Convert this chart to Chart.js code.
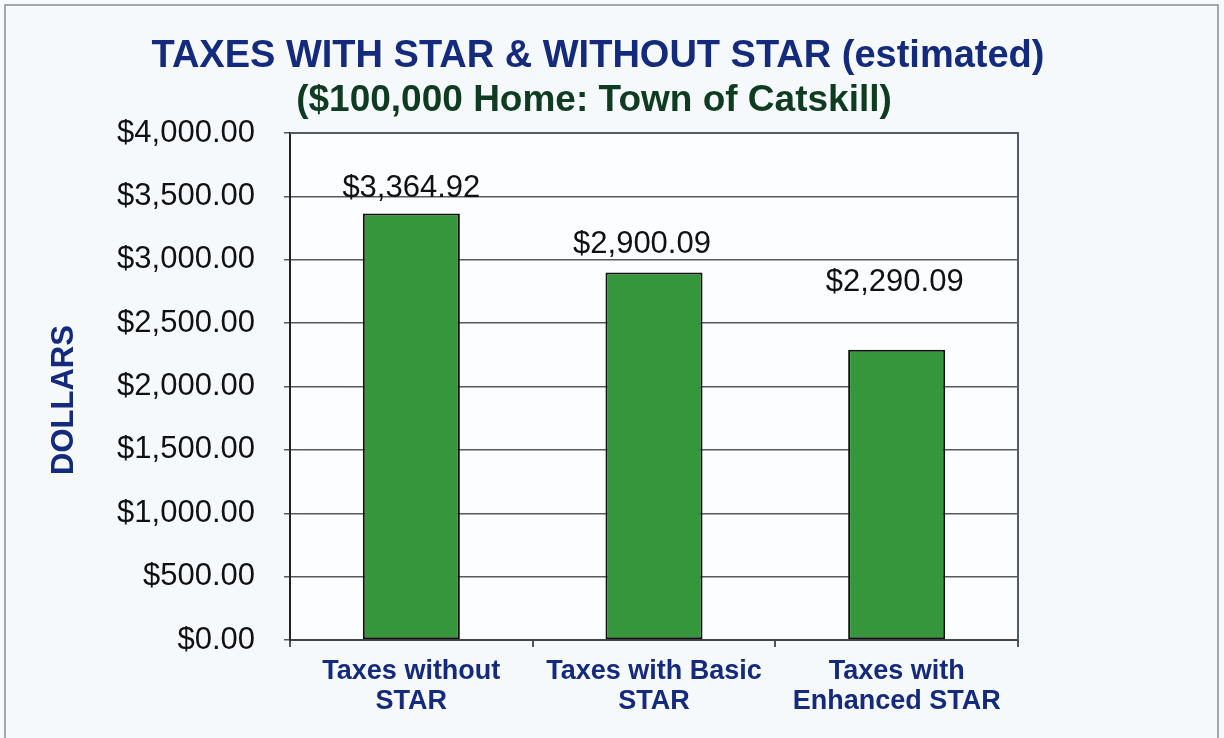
<!DOCTYPE html>
<html>
<head>
<meta charset="utf-8">
<script src="https://cdn.jsdelivr.net/npm/chart.js@4/dist/chart.umd.min.js"></script>
<style>
    html, body { margin: 0; padding: 0; background: #f6f9fc; }
    #wrap { width: 1224px; height: 738px; position: relative; }
</style>
</head>
<body>
<div id="wrap"><canvas id="taxChart"></canvas></div>
<script>
var titleLine = "TAXES WITH STAR & WITHOUT STAR (estimated)";
var subtitleLine = "($100,000 Home: Town of Catskill)";
var categories = [["Taxes without", "STAR"], ["Taxes with Basic", "STAR"], ["Taxes with", "Enhanced STAR"]];
var taxValues = [3364.92, 2900.09, 2290.09];
var yTicks = [0, 500, 1000, 1500, 2000, 2500, 3000, 3500, 4000];
var axisTitle = "DOLLARS";

function money(v) {
    return "$" + Number(v).toLocaleString("en-US", { minimumFractionDigits: 2, maximumFractionDigits: 2 });
}

// headings, frame, axis title and value labels
var decorations = {
    id: 'decorations',
    beforeDraw: function (chart) {
        var ctx = chart.ctx, a = chart.chartArea;
        ctx.save();
        ctx.fillStyle = '#fbfdfe';
        ctx.fillRect(a.left, a.top, a.right - a.left, a.bottom - a.top);
        ctx.strokeStyle = '#8a8a8a';
        ctx.lineWidth = 1.5;
        ctx.strokeRect(5, 5, 1213, 740);
        ctx.restore();
    },
    afterDraw: function (chart, args, opts) {
        var ctx = chart.ctx, a = chart.chartArea;
        ctx.save();
        ctx.strokeStyle = '#555a66';
        ctx.lineWidth = 2;
        ctx.beginPath();
        ctx.moveTo(a.left, a.top);
        ctx.lineTo(a.right, a.top);
        ctx.lineTo(a.right, a.bottom);
        ctx.stroke();

        ctx.textAlign = 'center';
        ctx.textBaseline = 'middle';
        ctx.font = 'bold 38px "Liberation Sans", Arial, sans-serif';
        ctx.fillStyle = '#142a7c';
        ctx.fillText(titleLine, 598, 57);
        ctx.font = 'bold 37px "Liberation Sans", Arial, sans-serif';
        ctx.fillStyle = '#0f3b20';
        ctx.fillText(subtitleLine, 594, 101);

        ctx.font = '31px "Liberation Sans", Arial, sans-serif';
        ctx.fillStyle = '#111';
        var meta = chart.getDatasetMeta(0);
        meta.data.forEach(function (bar, i) {
            ctx.fillText(money(taxValues[i]), bar.x + opts.dx[i], bar.y + opts.dy[i]);
        });

        ctx.translate(64, 400);
        ctx.rotate(-Math.PI / 2);
        ctx.font = 'bold 31px "Liberation Sans", Arial, sans-serif';
        ctx.fillStyle = '#142a7c';
        ctx.fillText(axisTitle, 0, 0);
        ctx.restore();
    }
};

var config = {
    type: 'bar',
    data: {
        labels: categories,
        datasets: [{
            data: taxValues,
            backgroundColor: '#35963b',
            borderColor: '#111',
            borderWidth: 2,
            borderSkipped: false,
            barPercentage: 0.4,
            categoryPercentage: 1
        }]
    },
    options: {
        responsive: true,
        maintainAspectRatio: false,
        animation: false,
        layout: {
            padding: { left: 0, right: 206, top: 133, bottom: 0 }
        },
        plugins: {
            legend: { display: false },
            tooltip: { enabled: false },
            decorations: { dx: [0, -12, -2], dy: [-25, -28, -67] }
        },
        scales: {
            x: {
                afterFit: function (scale) { scale.height = 98; },
                grid: { drawOnChartArea: false, drawTicks: true, tickLength: 7, color: '#555', lineWidth: 2 },
                border: { color: '#444', width: 2 },
                ticks: {
                    color: '#142a7c',
                    font: { family: '"Liberation Sans", Arial, sans-serif', size: 27, weight: 'bold', lineHeight: 1.12 },
                    padding: 9,
                    maxRotation: 0,
                    autoSkip: false
                }
            },
            y: {
                min: 0,
                max: 4000,
                afterFit: function (scale) { scale.width = 290; },
                afterBuildTicks: function (scale) {
                    scale.ticks = yTicks.map(function (v) { return { value: v }; });
                },
                grid: { color: '#555a60', lineWidth: 1.5, tickLength: 6 },
                border: { color: '#222', width: 2 },
                ticks: {
                    color: '#111',
                    font: { family: '"Liberation Sans", Arial, sans-serif', size: 31 },
                    padding: 29,
                    callback: function (v) { return money(v); }
                }
            }
        }
    },
    plugins: [decorations]
};

var taxChart = new Chart(document.getElementById("taxChart"), config);
</script>
</body>
</html>
